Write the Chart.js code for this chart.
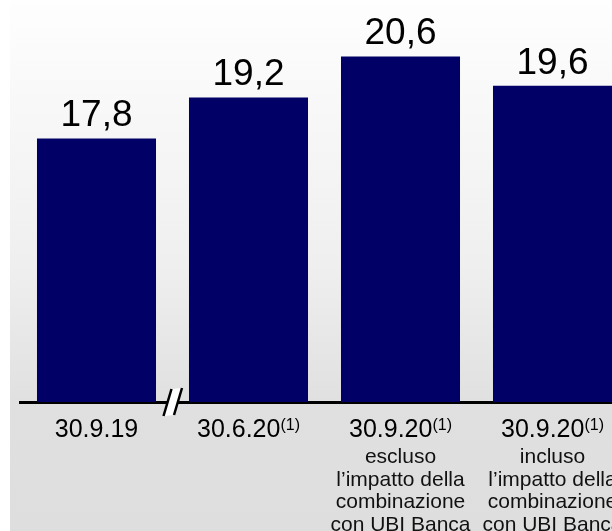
<!DOCTYPE html>
<html>
<head>
<meta charset="utf-8">
<script src="https://cdn.jsdelivr.net/npm/chart.js@4"></script>
<style>
  html, body { margin: 0; padding: 0; overflow: hidden; background: #ffffff; }
  #wrap { width: 612px; height: 531px; overflow: hidden; }
</style>
</head>
<body>
<div id="wrap">
  <canvas id="chart" width="640" height="531"></canvas>
</div>
<script>
// Chart data
const categories = ["30.9.19", "30.6.20", "30.9.20", "30.9.20"]
const footnotes = ["", "(1)", "(1)", "(1)"]
const subLabels = [
  [],
  [],
  ["escluso", "l\u2019impatto della", "combinazione", "con UBI Banca"],
  ["incluso", "l\u2019impatto della", "combinazione", "con UBI Banca"],
]
const values = [17.8, 19.2, 20.6, 19.6]
const yMin = 8.8
const yMax = 22

const FONT = '"Liberation Sans", Arial, sans-serif'
const barColor = "#000066"

// Light panel with vertical gradient, white strip on the left
const backgroundPlugin = {
  id: "panelBackground",
  beforeDraw(chart) {
    const ctx = chart.ctx
    ctx.save()
    ctx.fillStyle = "#ffffff"
    ctx.fillRect(0, 0, chart.width, chart.height)
    const grad = ctx.createLinearGradient(0, 0, 0, chart.height)
    grad.addColorStop(0, "#fefefe")
    grad.addColorStop(0.1, "#fbfbfb")
    grad.addColorStop(0.5, "#efefef")
    grad.addColorStop(0.76, "#e0e0e0")
    grad.addColorStop(1, "#dedede")
    ctx.fillStyle = grad
    ctx.fillRect(10, 0, chart.width - 10, chart.height)
    ctx.restore()
  },
}

// Value labels, category labels with footnote and the axis break mark
const labelsPlugin = {
  id: "customLabels",
  afterDraw(chart) {
    const ctx = chart.ctx
    const meta = chart.getDatasetMeta(0)
    const xScale = chart.scales.x
    const bottom = chart.chartArea.bottom
    ctx.save()
    ctx.fillStyle = "#000000"
    ctx.textBaseline = "alphabetic"

    // values above bars
    ctx.font = `37px ${FONT}`
    ctx.textAlign = "center"
    meta.data.forEach((bar, i) => {
      const txt = values[i].toFixed(1).replace(".", ",")
      ctx.fillText(txt, bar.x, bar.y - 12)
    })

    // category labels
    categories.forEach((cat, i) => {
      const cx = xScale.getPixelForValue(i)
      ctx.font = `25px ${FONT}`
      const w1 = ctx.measureText(cat).width
      ctx.font = `16px ${FONT}`
      const w2 = footnotes[i] ? ctx.measureText(footnotes[i]).width : 0
      const start = cx - (w1 + w2) / 2
      ctx.textAlign = "left"
      ctx.font = `25px ${FONT}`
      ctx.fillText(cat, start, bottom + 35)
      if (footnotes[i]) {
        ctx.font = `16px ${FONT}`
        ctx.fillText(footnotes[i], start + w1, bottom + 28)
      }
      ctx.textAlign = "center"
      ctx.font = `21px ${FONT}`
      ctx.fillStyle = "#111111"
      subLabels[i].forEach((line, j) => {
        ctx.fillText(line, cx, bottom + 61 + j * 22.5)
      })
      ctx.fillStyle = "#000000"
    })

    // axis break "//" between the first two bars
    const bx = (xScale.getPixelForValue(0) + xScale.getPixelForValue(1)) / 2
    const by = bottom
    ctx.beginPath()
    ctx.moveTo(bx - 8.5, by + 14)
    ctx.lineTo(bx - 0.5, by - 13)
    ctx.lineTo(bx + 9.5, by - 14)
    ctx.lineTo(bx + 1.5, by + 13)
    ctx.closePath()
    ctx.fillStyle = "#ffffff"
    ctx.fill()
    ctx.strokeStyle = "#000000"
    ctx.lineWidth = 2.5
    ctx.beginPath()
    ctx.moveTo(bx - 9, by + 14)
    ctx.lineTo(bx - 1, by - 13)
    ctx.moveTo(bx + 1.5, by + 13)
    ctx.lineTo(bx + 9.5, by - 14)
    ctx.stroke()
    ctx.restore()
  },
}

new Chart(document.getElementById("chart"), {
  type: "bar",
  data: {
    labels: categories,
    datasets: [
      {
        data: values,
        backgroundColor: barColor,
        borderWidth: 0,
        barPercentage: 0.783,
        categoryPercentage: 1,
      },
    ],
  },
  options: {
    responsive: false,
    animation: false,
    layout: {
      padding: { left: 20.5, right: 11.5, top: 15.4, bottom: 129 },
    },
    plugins: {
      legend: { display: false },
      tooltip: { enabled: false },
    },
    scales: {
      x: {
        grid: { display: false },
        ticks: { display: false },
        border: { display: true, color: "#000000", width: 3 },
        afterFit(scale) {
          scale.height = 0
        },
      },
      y: {
        display: false,
        min: yMin,
        max: yMax,
      },
    },
  },
  plugins: [backgroundPlugin, labelsPlugin],
})
</script>
</body>
</html>
